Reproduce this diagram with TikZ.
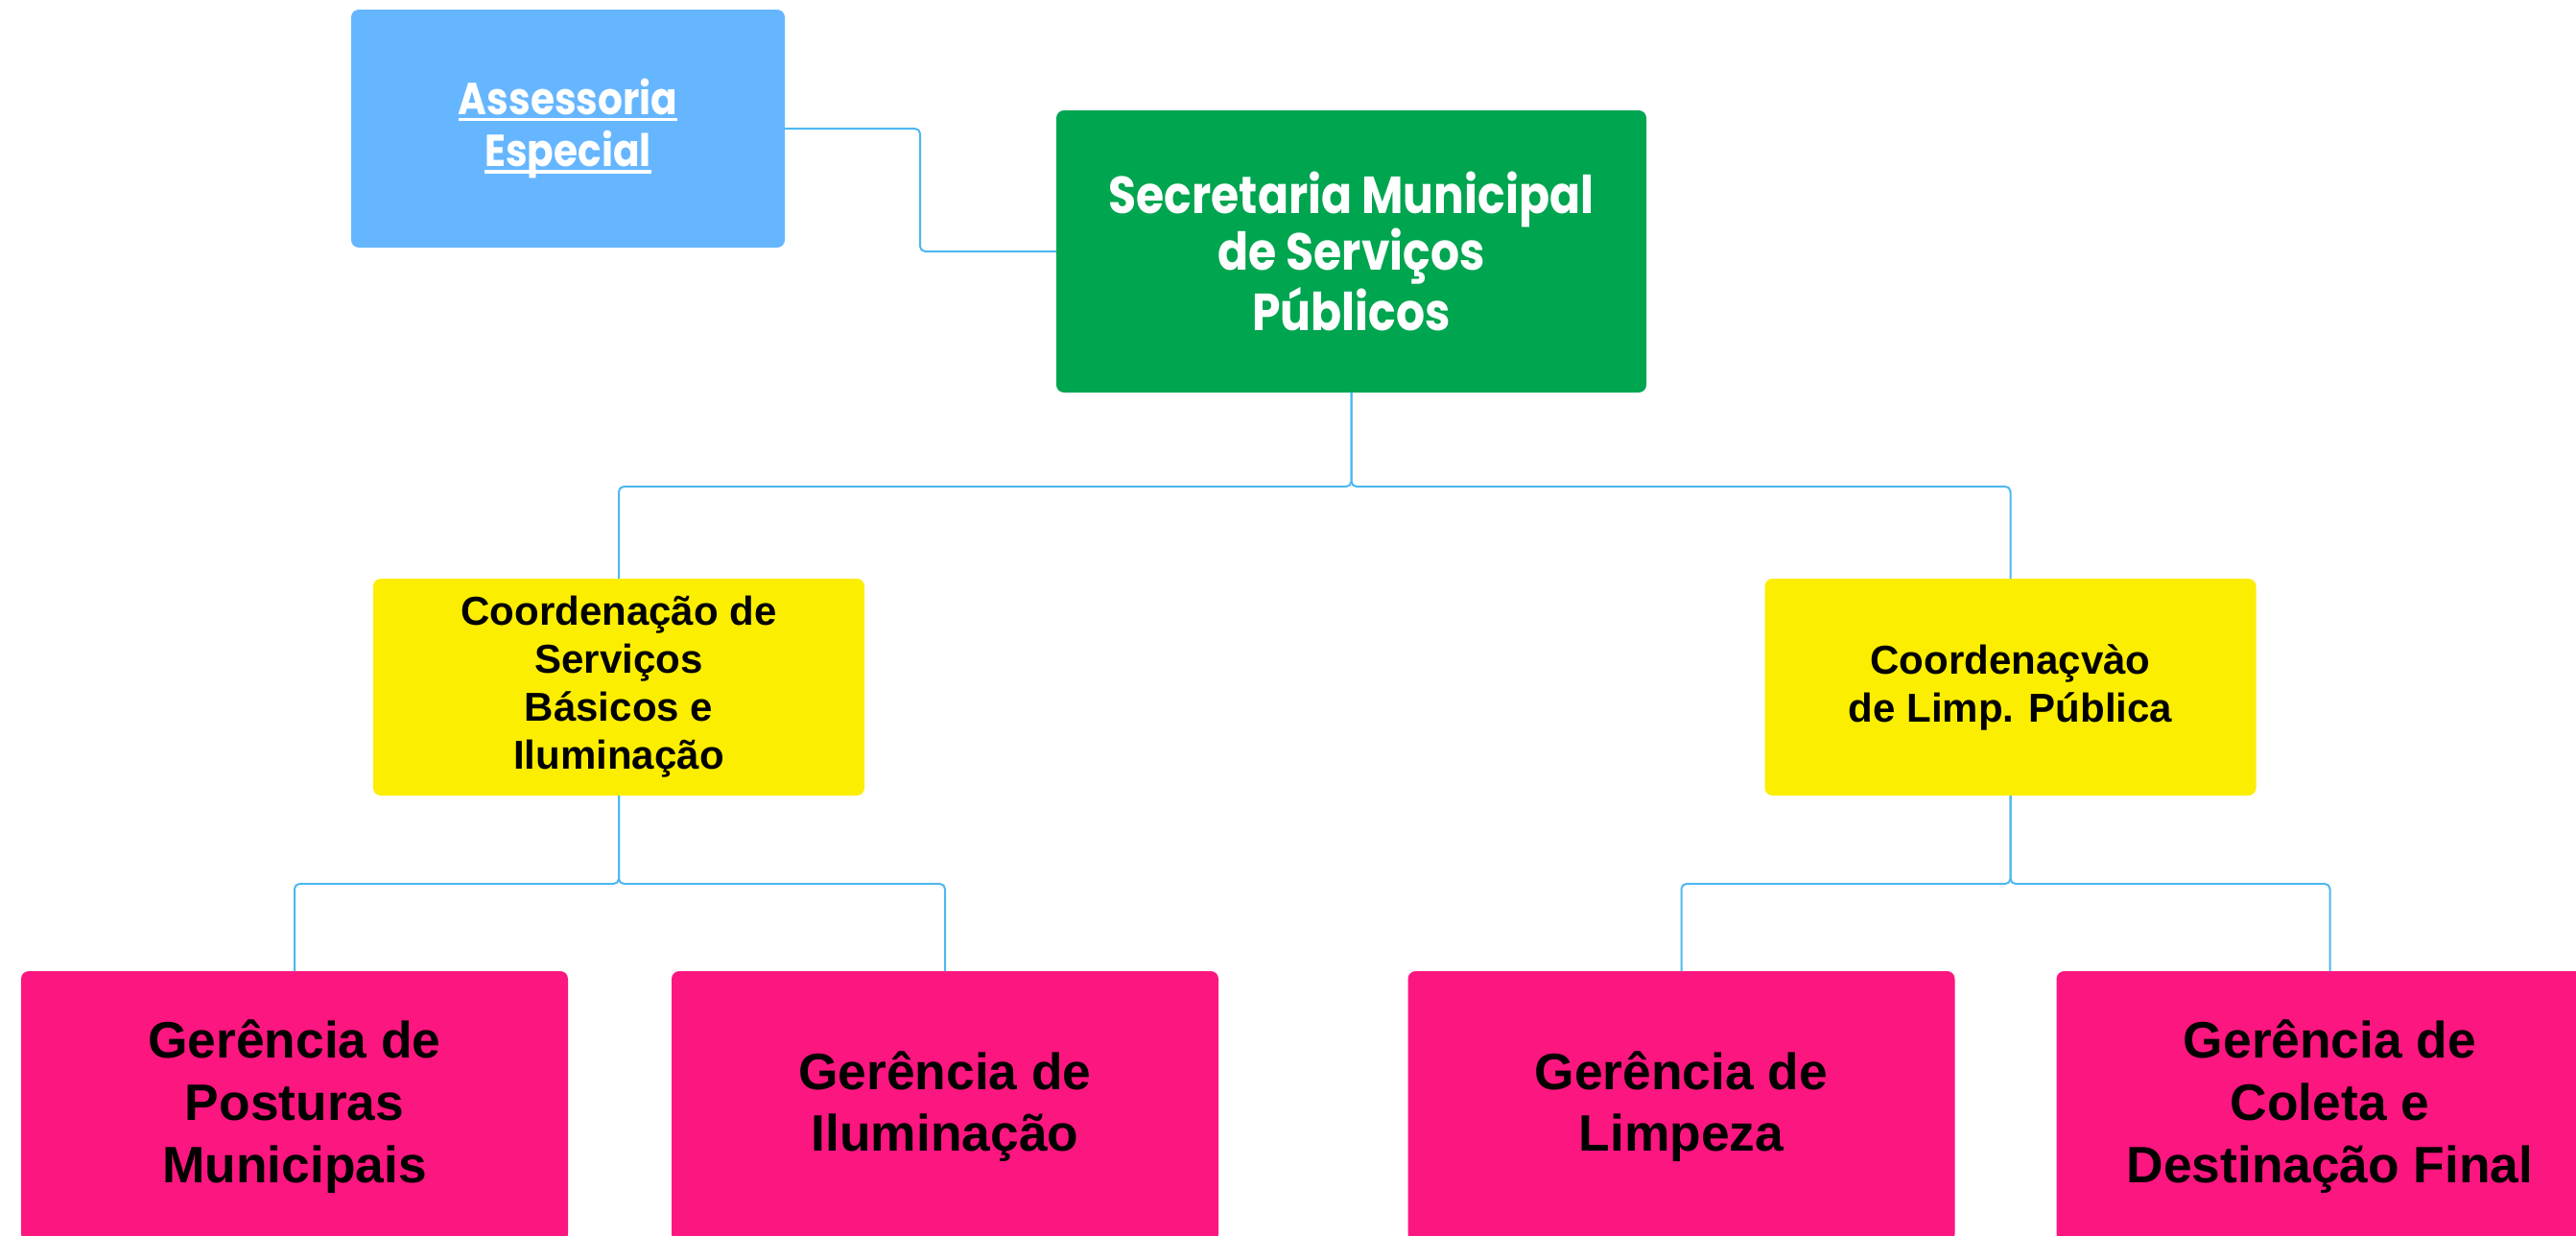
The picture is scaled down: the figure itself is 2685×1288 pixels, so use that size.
\documentclass[tikz,border=0pt]{standalone}
\usepackage{fontspec}
\setmainfont{Liberation Sans}
\newfontfamily\popfont{Poppins}[FakeStretch=0.87]
\definecolor{asblue}{HTML}{66B6FF}
\definecolor{secgreen}{HTML}{00A550}
\definecolor{coyellow}{HTML}{FCEE00}
\definecolor{gepink}{HTML}{FC1680}
\definecolor{connblue}{HTML}{4DB8F0}
\newcommand\wul[1]{\setbox0\hbox{#1}\rlap{\raisebox{-2.2pt}{\color{white}\rule{\wd0}{1.1pt}}}\box0}
\begin{document}
\begin{tikzpicture}[x=0.3pt,y=-0.3pt,
  box/.style={rectangle, rounded corners=2.4pt, inner sep=0pt, outer sep=0pt, align=center},
  asbox/.style={box, fill=asblue, text=white, minimum width=135.6pt, minimum height=74.4pt,
     font={\popfont\bfseries\fontsize{14}{16.4}\selectfont}},
  secbox/.style={box, fill=secgreen, text=white, minimum width=184.5pt, minimum height=88.2pt,
     font={\popfont\bfseries\fontsize{16.3}{17.5}\selectfont}},
  cobox/.style={box, fill=coyellow, text=black, minimum width=153.6pt, minimum height=67.8pt,
     font={\bfseries\fontsize{12.6}{15}\selectfont}},
  gebox/.style={box, fill=gepink, text=black, minimum width=171pt, minimum height=84.6pt,
     font={\bfseries\fontsize{16}{19.4}\selectfont}},
  conn/.style={draw=connblue, line width=0.6pt, rounded corners=1.6pt}]
\clip (0,0) rectangle (2685,1288);
\useasboundingbox (0,0) rectangle (2685,1288);
\fill[white] (0,0) rectangle (2685,1288);

\node[asbox] (asse) at (592,134) {\wul{Assessoria}\\\wul{Especial}};
\node[secbox] (sec) at (1408.5,262) {Secretaria Municipal\\de Serviços\\Públicos};
\node[cobox] (cl) at (645,716) {Coordenação de\\Serviços\\Básicos e\\Iluminação};
\node[cobox] (cr) at (2095.5,716) {Coordenaçvào\\de Limp. Pública};
\node[gebox] (p1) at (307,1153) {Gerência de\\Posturas\\Municipais};
\node[gebox] (p2) at (985,1153) {Gerência de\\Iluminação};
\node[gebox] (p3) at (1752.5,1153) {Gerência de\\Limpeza};
\node[gebox] (p4) at (2428.5,1153) {Gerência de\\Coleta e\\Destinação Final};

\draw[conn] (asse.east) -- ++(141,0) |- (sec.west);
\path (sec.south) ++(0,98) coordinate (j1);
\path (cl.south) ++(0,92) coordinate (j2);
\path (cr.south) ++(0,92) coordinate (j3);
\draw[conn] (sec.south) -- (j1) -| (cl.north);
\draw[conn] (sec.south) -- (j1) -| (cr.north);
\draw[conn] (cl.south) -- (j2) -| (p1.north);
\draw[conn] (cl.south) -- (j2) -| (p2.north);
\draw[conn] (cr.south) -- (j3) -| (p3.north);
\draw[conn] (cr.south) -- (j3) -| (p4.north);
\end{tikzpicture}
\end{document}
